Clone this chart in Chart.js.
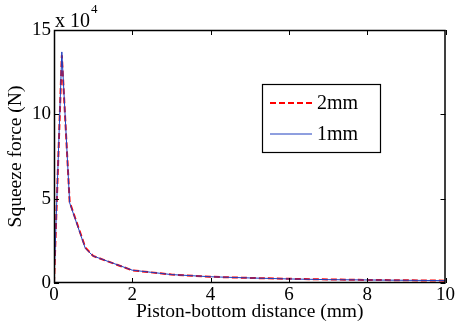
<!DOCTYPE html>
<html>
<head>
<meta charset="utf-8">
<script src="https://cdn.jsdelivr.net/npm/chart.js@4"></script>
<style>
  html, body { margin: 0; padding: 0; background: #fff; }
  #wrap { width: 456px; height: 324px; }
</style>
</head>
<body>
<div id="wrap"><canvas id="chart" width="456" height="324"></canvas></div>
<script>
// distance in mm, force in units of 1e4 N
const distance = [0, 0.2, 0.4, 0.8, 1, 2, 3, 4, 5, 6, 7, 8, 9, 10];
const force2mm = [0, 13.5, 4.8, 2.1, 1.6, 0.75, 0.5, 0.37, 0.3, 0.25, 0.21, 0.18, 0.16, 0.14];
const force1mm = [0, 13.7, 4.75, 2.05, 1.6, 0.76, 0.5, 0.37, 0.3, 0.24, 0.2, 0.18, 0.16, 0.14];
const xTicks = [0, 2, 4, 6, 8, 10];
const yTicks = [0, 5, 10, 15];
const seriesNames = ['2mm', '1mm'];

const FONT = '"Liberation Serif", "DejaVu Serif", serif';
const RED = '#ff0000';
const BLUE = '#1f3fbf';

const pts = (ys) => distance.map((x, i) => ({ x, y: ys[i] }));

// inward ticks on all four sides, the x 10^4 note and the legend box
const frame = {
  id: 'frame',
  afterDraw(chart) {
    const { ctx, chartArea: a, scales } = chart;
    const L = 5;
    ctx.save();
    ctx.strokeStyle = '#000';
    ctx.lineWidth = 1.5;
    ctx.strokeRect(a.left + 0.5, a.top + 0.5, a.right - a.left - 1, a.bottom - a.top - 1);
    ctx.lineWidth = 1;
    ctx.beginPath();
    xTicks.forEach((v) => {
      const px = Math.round(scales.x.getPixelForValue(v)) + 0.5;
      ctx.moveTo(px, a.bottom); ctx.lineTo(px, a.bottom - L);
      ctx.moveTo(px, a.top); ctx.lineTo(px, a.top + L);
    });
    yTicks.forEach((v) => {
      const py = Math.round(scales.y.getPixelForValue(v)) + 0.5;
      ctx.moveTo(a.left, py); ctx.lineTo(a.left + L, py);
      ctx.moveTo(a.right, py); ctx.lineTo(a.right - L, py);
    });
    ctx.stroke();

    ctx.fillStyle = '#000';
    ctx.textBaseline = 'alphabetic';
    ctx.font = '20px ' + FONT;
    ctx.fillText('x 10', a.left + 1, a.top - 3);
    ctx.font = '13px ' + FONT;
    ctx.fillText('4', a.left + 37, a.top - 17);

    // legend
    const lx = 262, ly = 84, lw = 118, lh = 68;
    ctx.fillStyle = '#fff';
    ctx.fillRect(lx, ly, lw, lh);
    ctx.strokeStyle = '#000';
    ctx.lineWidth = 1.2;
    ctx.strokeRect(lx + 0.5, ly + 0.5, lw, lh);
    const rows = [
      { color: RED, width: 2, dash: [6, 3], y: ly + 19 },
      { color: BLUE, width: 1, dash: [], y: ly + 50 },
    ];
    rows.forEach((r, i) => {
      ctx.beginPath();
      ctx.strokeStyle = r.color;
      ctx.lineWidth = r.width;
      ctx.setLineDash(r.dash);
      ctx.moveTo(lx + 8, r.y); ctx.lineTo(lx + 50, r.y);
      ctx.stroke();
      ctx.setLineDash([]);
      ctx.fillStyle = '#000';
      ctx.font = '20px ' + FONT;
      ctx.textBaseline = 'middle';
      ctx.fillText(seriesNames[i], lx + 55, r.y + 1);
    });
    ctx.restore();
  },
};

new Chart(document.getElementById('chart'), {
  type: 'line',
  data: {
    datasets: [
      {
        label: seriesNames[0],
        data: pts(force2mm),
        borderColor: RED,
        borderWidth: 2,
        borderDash: [6, 3],
        pointRadius: 0,
        tension: 0,
        order: 2,
      },
      {
        label: seriesNames[1],
        data: pts(force1mm),
        borderColor: BLUE,
        borderWidth: 1,
        pointRadius: 0,
        tension: 0,
        order: 1,
      },
    ],
  },
  options: {
    responsive: false,
    animation: false,
    layout: { padding: { left: 0, right: 8, top: 30, bottom: 0 } },
    scales: {
      x: {
        type: 'linear',
        min: 0,
        max: 10,
        afterBuildTicks: (s) => { s.ticks = xTicks.map((v) => ({ value: v })); },
        afterFit: (s) => { s.height = 41; },
        grid: { display: false, drawTicks: false },
        border: { display: false },
        ticks: { color: '#000', padding: 1, font: { family: FONT, size: 19 } },
        title: {
          display: true,
          text: 'Piston-bottom distance (mm)',
          color: '#000',
          padding: { top: 0, bottom: 0 },
          font: { family: FONT, size: 19.5 },
        },
      },
      y: {
        min: 0,
        max: 15,
        afterBuildTicks: (s) => { s.ticks = yTicks.map((v) => ({ value: v })); },
        afterFit: (s) => { s.width = 54; },
        grid: { display: false, drawTicks: false },
        border: { display: false },
        ticks: { color: '#000', padding: 3, font: { family: FONT, size: 19 } },
        title: {
          display: true,
          text: 'Squeeze force (N)',
          color: '#000',
          padding: { top: 4, bottom: 0 },
          font: { family: FONT, size: 19.5 },
        },
      },
    },
    plugins: {
      legend: { display: false },
      tooltip: { enabled: false },
    },
  },
  plugins: [frame],
});
</script>
</body>
</html>
